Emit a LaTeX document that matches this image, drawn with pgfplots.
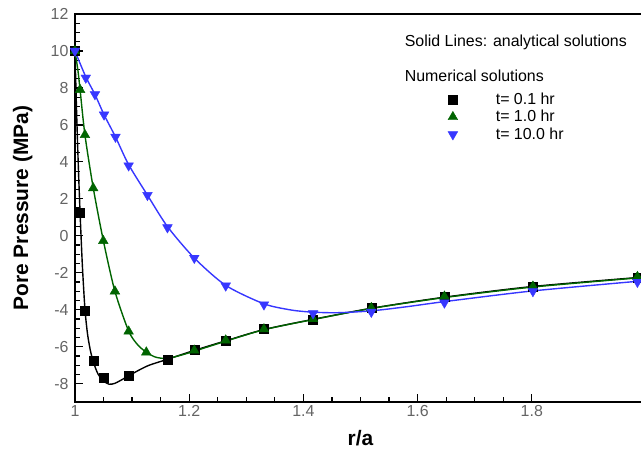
\documentclass[border=0pt]{standalone}
\usepackage{pgfplots}
\pgfplotsset{compat=1.18}
\usepackage{fontspec}
\setmainfont{Liberation Sans}
\definecolor{tgreen}{RGB}{0,100,0}
\definecolor{tblue}{RGB}{55,55,255}
\definecolor{tickgray}{RGB}{100,100,100}
\begin{document}
\begin{tikzpicture}
\begin{axis}[
  name=ax,
  scale only axis,
  width=571.5bp, height=388.5bp,
  xmin=1, xmax=2, ymin=-9, ymax=12,
  xtick={1,1.2,1.4,1.6,1.8},
  xticklabels={1,1.2,1.4,1.6,1.8},
  ytick={-8,-6,-4,-2,0,2,4,6,8,10,12},
  minor x tick num=3,
  minor y tick num=3,
  xtick pos=left, ytick pos=left,
  tick align=inside,
  major tick length=8bp, minor tick length=5bp,
  every tick/.style={black, line width=1.2bp},
  axis line style={line width=1.6bp},
  /pgf/number format/assume math mode=true,
  ticklabel style={font=\fontsize{16}{18}\selectfont, text=tickgray},
  yticklabel style={xshift=-3bp},
  xlabel={r/a}, ylabel={Pore Pressure (MPa)},
  xlabel style={font=\bfseries\fontsize{21}{24}\selectfont, at={(axis description cs:0.5,-0.1107)}, anchor=base, inner sep=0pt},
  ylabel style={font=\bfseries\fontsize{21}{24}\selectfont, at={(axis description cs:-0.0822,0.5)}, anchor=base, inner sep=0pt},
  legend image code/.code={\draw[#1] plot coordinates {(0bp,0bp)}; \path[draw=none,fill=none] (-8.5bp,-4bp) rectangle (41bp,4bp);},
  legend cell align=left,
  legend style={draw=none, fill=none, inner sep=0pt, row sep=0.5bp,
    font=\fontsize{16}{18}\selectfont,
    at={(axis cs:1.6466,6.43)}, anchor=west},
  clip=false,
]
% analytical solutions
\addplot[black, line width=1.4bp, smooth, tension=0.45, forget plot] coordinates {
(1.000,10) (1.003,6.6) (1.006,3.7) (1.009,1.24) (1.013,-1.6) (1.0175,-3.95)
(1.022,-5.3) (1.027,-6.2) (1.032,-6.8) (1.040,-7.45) (1.050,-7.85) (1.060,-8.03)
(1.070,-7.98) (1.080,-7.82) (1.094,-7.58) (1.110,-7.3) (1.130,-7.0) (1.162,-6.68)
(1.209,-6.2) (1.264,-5.68) (1.331,-5.07) (1.417,-4.52) (1.519,-3.92) (1.647,-3.32)
(1.802,-2.74) (2.000,-2.22)};
\addplot[tgreen, line width=1.4bp, smooth, tension=0.45, forget plot] coordinates {
(1.000,10) (1.005,9.0) (1.009,7.9) (1.0175,5.46) (1.032,2.6) (1.050,-0.3)
(1.070,-3.0) (1.094,-5.15) (1.110,-5.9) (1.125,-6.3) (1.140,-6.55) (1.155,-6.63)
(1.170,-6.58) (1.190,-6.42) (1.209,-6.24) (1.264,-5.7) (1.331,-5.08) (1.417,-4.53)
(1.519,-3.93) (1.647,-3.34) (1.802,-2.77) (2.000,-2.24)};
\addplot[tblue, line width=1.4bp, smooth, tension=0.45, forget plot] coordinates {
(1.000,10) (1.019,8.6) (1.035,7.65) (1.051,6.55) (1.071,5.35) (1.094,3.85)
(1.127,2.2) (1.162,0.5) (1.209,-1.2) (1.264,-2.68) (1.331,-3.68) (1.380,-4.02)
(1.417,-4.13) (1.460,-4.16) (1.519,-4.06) (1.580,-3.84) (1.647,-3.56) (1.802,-2.98)
(2.000,-2.42)};
% numerical solutions
\addplot[only marks, mark=square*, mark size=4.5bp, black, mark options={fill=black}] coordinates {
(1.000,10) (1.009,1.24) (1.0175,-4.05) (1.032,-6.76) (1.0496,-7.68) (1.094,-7.55)
(1.162,-6.7) (1.209,-6.18) (1.264,-5.68) (1.331,-5.05) (1.417,-4.52) (1.519,-3.9)
(1.647,-3.3) (1.802,-2.75) (1.985,-2.25)};
\addlegendentry{t= 0.1 hr}
\addplot[only marks, mark=triangle*, mark size=5.6bp, tgreen, mark options={fill=tgreen}] coordinates {
(1.000,10) (1.009,7.9) (1.0175,5.46) (1.032,2.58) (1.0496,-0.27) (1.070,-3.0)
(1.094,-5.17) (1.125,-6.3) (1.209,-6.2) (1.264,-5.65) (1.331,-5.05) (1.417,-4.5)
(1.519,-3.9) (1.647,-3.28) (1.802,-2.74) (1.985,-2.22)};
\addlegendentry{t= 1.0 hr}
\addplot[only marks, mark=triangle*, mark size=5.6bp, tblue, mark options={fill=tblue, rotate=180}] coordinates {
(1.000,10) (1.019,8.55) (1.035,7.65) (1.051,6.55) (1.071,5.35) (1.094,3.8)
(1.127,2.2) (1.162,0.45) (1.209,-1.2) (1.264,-2.7) (1.331,-3.72) (1.417,-4.2)
(1.519,-4.12) (1.647,-3.62) (1.802,-3.0) (1.985,-2.5)};
\addlegendentry{t= 10.0 hr}
\node[anchor=west, inner sep=0pt, font=\fontsize{16}{18}\selectfont] at (axis cs:1.5774,10.45) {Solid Lines: analytical solutions};
\node[anchor=west, inner sep=0pt, font=\fontsize{16}{18}\selectfont] at (axis cs:1.5774,8.63) {Numerical solutions};
\end{axis}
\pgfresetboundingbox
\path[use as bounding box] ([shift={(-75bp,-47.5bp)}]ax.south west) rectangle ([shift={(-5bp,14bp)}]ax.north east);
\end{tikzpicture}
\end{document}
